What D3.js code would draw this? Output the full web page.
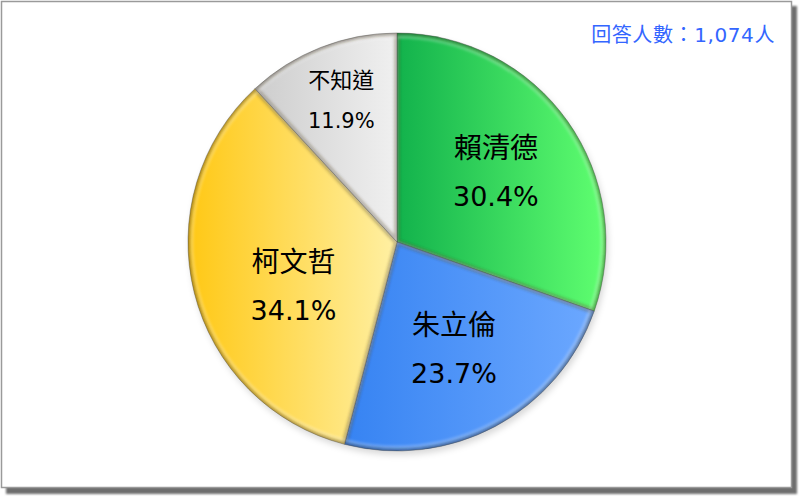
<!DOCTYPE html>
<html>
<head>
<meta charset="utf-8">
<script src="https://cdn.jsdelivr.net/npm/d3@7"></script>
<style>
  body { margin: 0; background: #ffffff; }
  svg { display: block; }
  text { font-family: "DejaVu Sans", "Noto Sans CJK TC", sans-serif; }
</style>
</head>
<body>
<div id="chart"></div>
<script>
// Data
const names = ['賴清德', '朱立倫', '柯文哲', '不知道'];
const shares = [30.4, 23.7, 34.1, 11.9];
const colorsFrom = ['#12b24c', '#3683f2', '#ffc814', '#cdcdcd'];
const colorsTo = ['#60ff70', '#6ca8ff', '#fff0a4', '#f0f0f0'];
const respondents = '回答人數：1,074人';

const width = 800, height = 496;
const cx = 397, cy = 242, radius = 209;

const svg = d3.select('#chart')
    .append('svg')
    .attr('width', width)
    .attr('height', height);

const defs = svg.append('defs');

// Frame with shadow
defs.append('filter').attr('id', 'frameBlur')
    .append('feGaussianBlur').attr('stdDeviation', 1);

svg.append('rect')
    .attr('x', 6).attr('y', 6)
    .attr('width', 791).attr('height', 488)
    .attr('fill', '#6e6e6e')
    .attr('filter', 'url(#frameBlur)');

svg.append('rect')
    .attr('x', 1.5).attr('y', 1.5)
    .attr('width', 790).attr('height', 486)
    .attr('fill', '#ffffff')
    .attr('stroke', '#9a9a9a')
    .attr('stroke-width', 1.5);

// Gradients per slice
names.forEach((n, i) => {
    const g = defs.append('linearGradient')
        .attr('id', 'grad' + i)
        .attr('x1', '0%').attr('y1', '0%')
        .attr('x2', '100%').attr('y2', '0%');
    g.append('stop').attr('offset', '0%').attr('stop-color', colorsFrom[i]);
    g.append('stop').attr('offset', '100%').attr('stop-color', colorsTo[i]);
});

defs.append('filter').attr('id', 'edgeBlur')
    .attr('x', '-10%').attr('y', '-10%').attr('width', '120%').attr('height', '120%')
    .append('feGaussianBlur').attr('stdDeviation', 1.5);

defs.append('filter').attr('id', 'pieShadow')
    .attr('x', '-10%').attr('y', '-10%').attr('width', '120%').attr('height', '120%')
    .append('feGaussianBlur').attr('stdDeviation', 3);

const pie = d3.pie().sort(null).value(d => d)(shares);
const arc = d3.arc().innerRadius(0).outerRadius(radius);

const root = svg.append('g').attr('transform', `translate(${cx},${cy})`);

// soft shadow under pie
root.append('circle')
    .attr('cx', 2).attr('cy', 4)
    .attr('r', radius)
    .attr('fill', 'rgba(0,0,0,0.15)')
    .attr('filter', 'url(#pieShadow)');

const slices = root.selectAll('g.slice')
    .data(pie)
    .enter()
    .append('g')
    .attr('class', 'slice');

slices.append('clipPath')
    .attr('id', (d, i) => 'clip' + i)
    .append('path')
    .attr('d', arc);

slices.append('path')
    .attr('d', arc)
    .attr('fill', (d, i) => `url(#grad${i})`);

// bevel: dark inner edge
slices.append('path')
    .attr('d', arc)
    .attr('fill', 'none')
    .attr('stroke', 'rgba(60,50,20,0.4)')
    .attr('stroke-width', 5)
    .attr('filter', 'url(#edgeBlur)')
    .attr('clip-path', (d, i) => `url(#clip${i})`);

// bevel: light highlight just inside
const arcInner = d3.arc().innerRadius(0).outerRadius(radius - 4);
slices.append('path')
    .attr('d', arcInner)
    .attr('fill', 'none')
    .attr('stroke', 'rgba(255,255,255,0.5)')
    .attr('stroke-width', 1.5)
    .attr('filter', 'url(#edgeBlur)')
    .attr('clip-path', (d, i) => `url(#clip${i})`);

slices.append('path')
    .attr('d', arc)
    .attr('fill', 'none')
    .attr('stroke', 'rgba(70,70,70,0.5)')
    .attr('stroke-width', 0.8);

// Labels
const labelArcBig = d3.arc().innerRadius(radius * 0.58).outerRadius(radius * 0.58);
const labelArcSmall = d3.arc().innerRadius(radius * 0.73).outerRadius(radius * 0.73);

const labels = root.selectAll('g.label')
    .data(pie)
    .enter()
    .append('g')
    .attr('class', 'label')
    .attr('transform', d => {
        const c = (d.data < 15 ? labelArcSmall : labelArcBig).centroid(d);
        // lower-left label box sits further into the slice
        const shift = c[0] < 0 && c[1] > 0 ? 14 : 0;
        return `translate(${c[0] + shift},${c[1] + shift})`;
    });

labels.append('text')
    .attr('text-anchor', 'middle')
    .attr('y', d => d.data < 15 ? -12 : -14)
    .style('font-size', d => d.data < 15 ? '22px' : '28px')
    .style('font-family', '"Noto Sans CJK TC", sans-serif')
    .style('fill', '#000')
    .text((d, i) => names[i]);

labels.append('text')
    .attr('text-anchor', 'middle')
    .attr('y', d => d.data < 15 ? 28 : 34)
    .style('font-size', d => d.data < 15 ? '21px' : '27px')
    .style('fill', '#000')
    .text(d => d.data.toFixed(1) + '%');

// Respondents note
svg.append('text')
    .attr('x', 775)
    .attr('y', 42)
    .attr('text-anchor', 'end')
    .style('font-size', '20px')
    .style('letter-spacing', '0.6px')
    .style('fill', '#3366ff')
    .text(respondents);
</script>
</body>
</html>
